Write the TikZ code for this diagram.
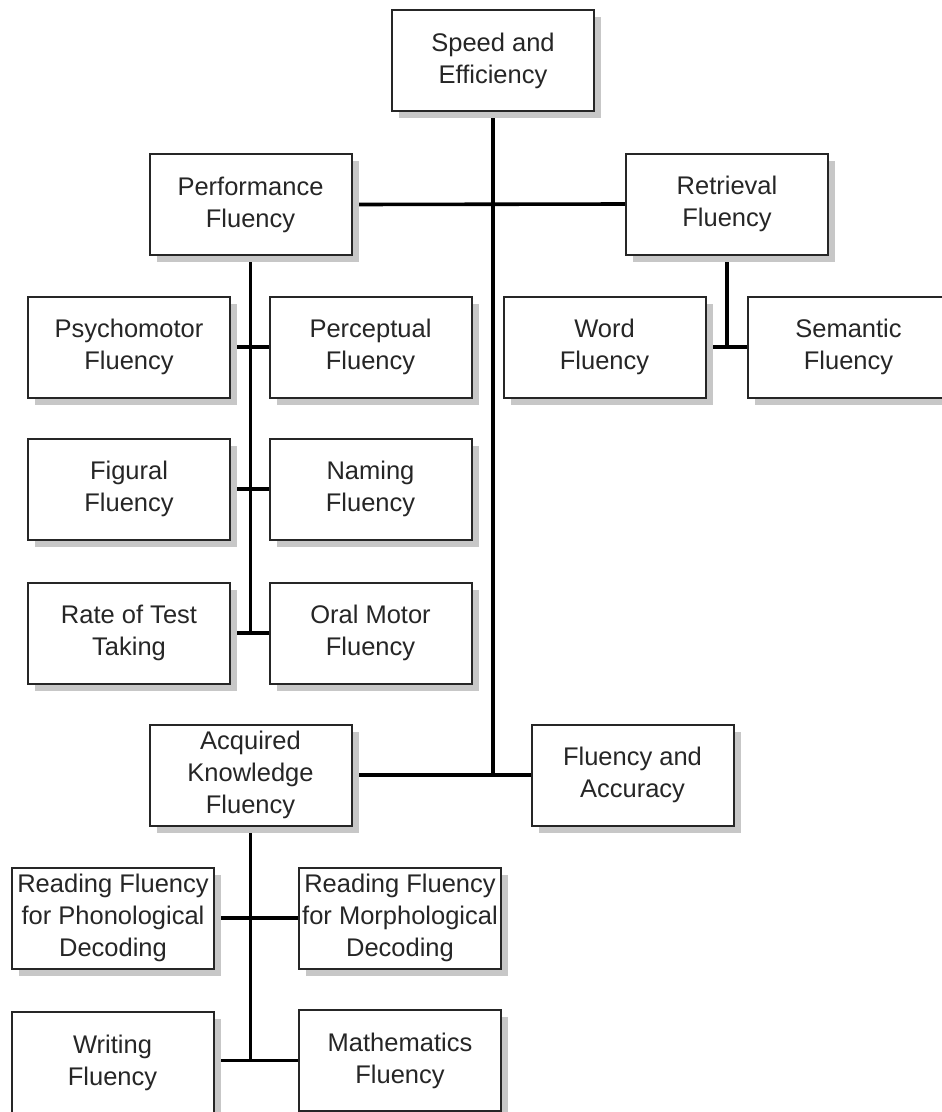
\documentclass[tikz,border=0pt]{standalone}
\usepackage{fontspec}
\setmainfont{Liberation Sans}
\usetikzlibrary{shadows}
\pgfdeclarelayer{paper}
\pgfdeclarelayer{links}
\pgfsetlayers{paper,links,main}
\begin{document}
\begin{tikzpicture}[x=1pt,y=-1pt,
  box/.style={draw=black!85, line width=2pt, fill=white,
    minimum width=202pt, minimum height=101pt, inner sep=0pt,
    align=center, text=black!85,
    font=\fontsize{25.5}{32}\selectfont,
    drop shadow={shadow xshift=7pt, shadow yshift=-7pt, fill=black!22, opacity=1}},
  link/.style={line width=3.6pt, black}]
\clip (0,0) rectangle (942,1112);
\begin{pgfonlayer}{paper}
  \fill[white] (0,0) rectangle (942,1112);
\end{pgfonlayer}

% top level
\node[box] (speed) at (493,60.5) {Speed and\\Efficiency};
\node[box] (perf)  at (250.5,204.5) {Performance\\Fluency};
\node[box] (retr)  at (727,204) {Retrieval\\Fluency};

% retrieval branch
\node[box] (word)  at (604.5,347) {Word\\Fluency};
\node[box] (sem)   at (848.5,347) {Semantic\\Fluency};

% performance branch
\node[box] (psych) at (129,347) {Psychomotor\\Fluency};
\node[box] (perc)  at (370.5,347) {Perceptual\\Fluency};
\node[box] (fig)   at (129,489) {Figural\\Fluency};
\node[box] (nam)   at (370.5,489) {Naming\\Fluency};
\node[box] (rate)  at (129,633) {Rate of Test\\Taking};
\node[box] (oral)  at (370.5,633) {Oral Motor\\Fluency};

% lower level
\node[box] (acq)   at (250.5,775) {Acquired\\Knowledge\\Fluency};
\node[box] (acc)   at (632.5,775) {Fluency and\\Accuracy};

% acquired knowledge branch
\node[box] (phon)  at (113,918) {Reading Fluency\\for Phonological\\Decoding};
\node[box] (morph) at (400,918) {Reading Fluency\\for Morphological\\Decoding};
\node[box] (writ)  at (112.5,1062.5) {Writing\\Fluency};
\node[box] (math)  at (400,1060.5) {Mathematics\\Fluency};

\begin{pgfonlayer}{links}
  % main trunk
  \draw[link] (speed.south) -- (speed.south |- acc.west);
  \draw[link] (perf.east) -- (retr.west);
  \draw[link] (acq.east) -- (acc.west);
  % retrieval
  \draw[link] (retr.south) -- (retr.south |- word.east);
  \draw[link] (word.east) -- (sem.west);
  % performance
  \draw[link] (perf.south) -- (perf.south |- rate.east);
  \draw[link] (psych.east) -- (perc.west);
  \draw[link] (fig.east) -- (nam.west);
  \draw[link] (rate.east) -- (oral.west);
  % acquired knowledge
  \draw[link] (acq.south) -- (acq.south |- math.west);
  \draw[link] (phon.east) -- (morph.west);
  \draw[link] (writ.east |- math.west) -- (math.west);
\end{pgfonlayer}
\end{tikzpicture}
\end{document}
